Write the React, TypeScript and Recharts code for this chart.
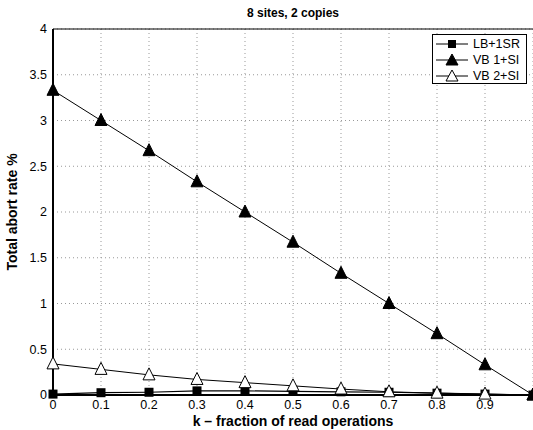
import { LineChart, Line, XAxis, YAxis, CartesianGrid, ReferenceLine } from 'recharts';

const kValues = [0, 0.1, 0.2, 0.3, 0.4, 0.5, 0.6, 0.7, 0.8, 0.9, 1];
const lb1sr = [0.01, 0.025, 0.03, 0.045, 0.045, 0.04, 0.035, 0.03, 0.02, 0.01, 0];
const vb1si = [3.33, 3.0, 2.67, 2.33, 2.0, 1.67, 1.33, 1.0, 0.67, 0.33, 0];
const vb2si = [0.34, 0.28, 0.22, 0.17, 0.135, 0.1, 0.065, 0.035, 0.02, 0.01, 0];
const xTicks = [0, 0.1, 0.2, 0.3, 0.4, 0.5, 0.6, 0.7, 0.8, 0.9, 1];
const yTicks = [0, 0.5, 1, 1.5, 2, 2.5, 3, 3.5, 4];

const data = kValues.map((k, i) => ({ k, lb: lb1sr[i], vb1: vb1si[i], vb2: vb2si[i] }));

const FONT = '"Liberation Sans", Arial, Helvetica, sans-serif';

const Square = (props: any) => {
  const { cx, cy } = props;
  if (cx == null || cy == null) return null;
  return <rect x={cx - 4.5} y={cy - 4.5} width={9} height={9} fill="#000" />;
};

const Tri = (filled: boolean) => (props: any) => {
  const { cx, cy } = props;
  if (cx == null || cy == null) return null;
  const s = 6;
  return (
    <polygon
      points={`${cx},${cy - s - 1} ${cx - s},${cy + s - 1} ${cx + s},${cy + s - 1}`}
      fill={filled ? '#000' : '#fff'}
      stroke="#000"
      strokeWidth={1}
    />
  );
};

const LegendRow = ({ label, marker }: { label: string; marker: 'sq' | 'tf' | 'to' }) => (
  <div style={{ display: 'flex', alignItems: 'center', height: 16 }}>
    <svg width={34} height={14} style={{ marginRight: 4 }}>
      <line x1={1} y1={7} x2={33} y2={7} stroke="#000" strokeWidth={1} />
      {marker === 'sq' && <rect x={13} y={3} width={8} height={8} fill="#000" />}
      {marker !== 'sq' && (
        <polygon
          points="17,1 11,12 23,12"
          fill={marker === 'tf' ? '#000' : '#fff'}
          stroke="#000"
        />
      )}
    </svg>
    <span>{label}</span>
  </div>
);

export default function App() {
  return (
    <div style={{ position: 'absolute', left: 0, top: 0, width: 533, height: 430, background: '#fff', fontFamily: FONT, overflow: 'hidden' }}>
      <div style={{ position: 'absolute', left: 53, width: 480, top: 6, textAlign: 'center', fontWeight: 'bold', fontSize: 12 }}>
        8 sites, 2 copies
      </div>
      <LineChart width={533} height={430} data={data} margin={{ top: 29, right: 0, bottom: 0, left: 0 }}>
        <CartesianGrid stroke="#999" strokeDasharray="1 3" horizontalValues={yTicks} verticalValues={xTicks} />
        <ReferenceLine y={4} stroke="#000" strokeWidth={1} />
        <XAxis
          dataKey="k"
          type="number"
          domain={[0, 1]}
          ticks={xTicks}
          tickFormatter={(v: number) => (v === 1 ? '' : String(v))}
          axisLine={{ stroke: '#000', strokeWidth: 2 }}
          tickLine={false}
          tickSize={0}
          tick={{ fill: '#000', fontSize: 12.5, fontFamily: FONT }}
          tickMargin={5}
          height={35}
          label={{ value: 'k \u2013 fraction of read operations', position: 'insideBottom', offset: 4, fill: '#000', fontSize: 14, fontWeight: 'bold', fontFamily: FONT }}
        />
        <YAxis
          type="number"
          domain={[0, 4]}
          ticks={yTicks}
          width={53}
          axisLine={{ stroke: '#000', strokeWidth: 2 }}
          tickLine={false}
          tickSize={0}
          tick={{ fill: '#000', fontSize: 12.5, fontFamily: FONT }}
          tickMargin={6}
          label={{ value: 'Total abort rate %', angle: -90, position: 'insideLeft', offset: 12, fill: '#000', fontSize: 14, fontWeight: 'bold', fontFamily: FONT, style: { textAnchor: 'middle' } }}
        />
        <Line dataKey="lb" stroke="#000" strokeWidth={1.2} dot={<Square />} isAnimationActive={false} />
        <Line dataKey="vb2" stroke="#000" strokeWidth={1} dot={Tri(false)} isAnimationActive={false} />
        <Line dataKey="vb1" stroke="#000" strokeWidth={1} dot={Tri(true)} isAnimationActive={false} />
      </LineChart>
      <div style={{ position: 'absolute', left: 432, top: 34, width: 95, height: 50, border: '1.5px solid #000', background: '#fff', fontSize: 12.5, padding: '1px 0 0 2px', boxSizing: 'border-box' }}>
        <LegendRow label="LB+1SR" marker="sq" />
        <LegendRow label="VB 1+SI" marker="tf" />
        <LegendRow label="VB 2+SI" marker="to" />
      </div>
    </div>
  );
}
